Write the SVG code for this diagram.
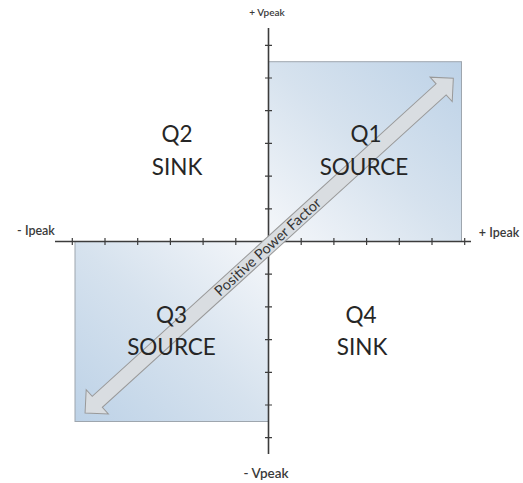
<svg xmlns="http://www.w3.org/2000/svg" width="523" height="483" viewBox="0 0 523 483">
  <style>
    .q { font-family: Lato, "Open Sans", "Liberation Sans", sans-serif; font-size: 22.5px; fill: #262626; text-anchor: middle; }
    .ax { font-family: Lato, "Open Sans", "Liberation Sans", sans-serif; fill: #3a3a3a; text-anchor: middle; font-weight: 600; }
    .axis { stroke: #3c3c3c; stroke-width: 1.6; fill: none; }
    .tick { stroke: #3c3c3c; stroke-width: 1.2; fill: none; }
    .quad { stroke: #9ea6ae; stroke-width: 1; }
  </style>
  <defs>
    <linearGradient id="g1" x1="0" y1="1" x2="1" y2="0">
      <stop offset="0" stop-color="#f5f7fa"/>
      <stop offset="0.5" stop-color="#d6e2ee"/>
      <stop offset="1" stop-color="#bdd2e7"/>
    </linearGradient>
    <linearGradient id="g3" x1="1" y1="0" x2="0" y2="1">
      <stop offset="0" stop-color="#f5f7fa"/>
      <stop offset="0.5" stop-color="#d6e2ee"/>
      <stop offset="1" stop-color="#bdd2e7"/>
    </linearGradient>
    <linearGradient id="gl" x1="0" y1="0" x2="1" y2="0">
      <stop offset="0" stop-color="#8a8a8a" stop-opacity="0"/>
      <stop offset="0.08" stop-color="#8a8a8a"/>
      <stop offset="1" stop-color="#8a8a8a"/>
    </linearGradient>
  </defs>

  <g id="quadrant-q1">
    <rect class="quad" x="268.5" y="61.7" width="193" height="179.8" fill="url(#g1)"/>
  </g>
  <g id="quadrant-q3">
    <rect class="quad" x="75" y="241.5" width="193.5" height="180" fill="url(#g3)"/>
  </g>

  <g id="axes">
    <line class="axis" x1="55" y1="241.5" x2="471" y2="241.5"/>
    <line class="axis" x1="268.5" y1="28" x2="268.5" y2="454"/>
    <path class="tick" d="M265,208.8h7M265,176.1h7M265,143.4h7M265,110.7h7M265,78h7M265,45.3h7
      M265,274.2h7M265,306.9h7M265,339.6h7M265,372.3h7M265,405h7M265,437.7h7
      M235.8,238v7M203.1,238v7M170.4,238v7M137.7,238v7M105,238v7M72.3,238v7
      M301.2,238v7M333.9,238v7M366.6,238v7M399.3,238v7M432,238v7M464.7,238v7"/>
  </g>

  <g id="axis-labels">
    <text class="ax" x="267" y="16" font-size="10">+ Vpeak</text>
    <text class="ax" x="266" y="478" font-size="13.5">- Vpeak</text>
    <text class="ax" x="36" y="235" font-size="12.5">- Ipeak</text>
    <text class="ax" x="499" y="237" font-size="12.5">+ Ipeak</text>
  </g>

  <g id="label-q2">
    <text class="q" x="177" y="141.7">Q2</text>
    <text class="q" x="177" y="175">SINK</text>
  </g>
  <g id="label-q4">
    <text class="q" x="361" y="323">Q4</text>
    <text class="q" x="362" y="355">SINK</text>
  </g>

  <g id="connectors">
    <g id="power-factor-arrow" transform="translate(269.2,245.6) rotate(-42.26)">
      <path d="M-248.8,0 L-232.3,-16.5 L-232.3,-7.5 L232.3,-7.5 L232.3,-16.5 L248.8,0 L232.3,16.5 L232.3,7.5 L-232.3,7.5 L-232.3,16.5 Z" fill="#d9dde1" stroke="#999" stroke-width="1" stroke-linejoin="miter"/>
      <text x="-2" y="5" font-family="Lato, 'Open Sans', 'Liberation Sans', sans-serif" font-size="14.5" fill="#333" text-anchor="middle">Positive Power Factor</text>
    </g>
  </g>

  <g id="label-q1">
    <text class="q" x="366" y="141.7">Q1</text>
    <text class="q" x="364" y="175">SOURCE</text>
  </g>
  <g id="label-q3">
    <text class="q" x="171.5" y="323">Q3</text>
    <text class="q" x="171.5" y="355">SOURCE</text>
  </g>

  <line x1="15" y1="481.5" x2="523" y2="481.5" stroke="url(#gl)" stroke-width="2"/>
</svg>
